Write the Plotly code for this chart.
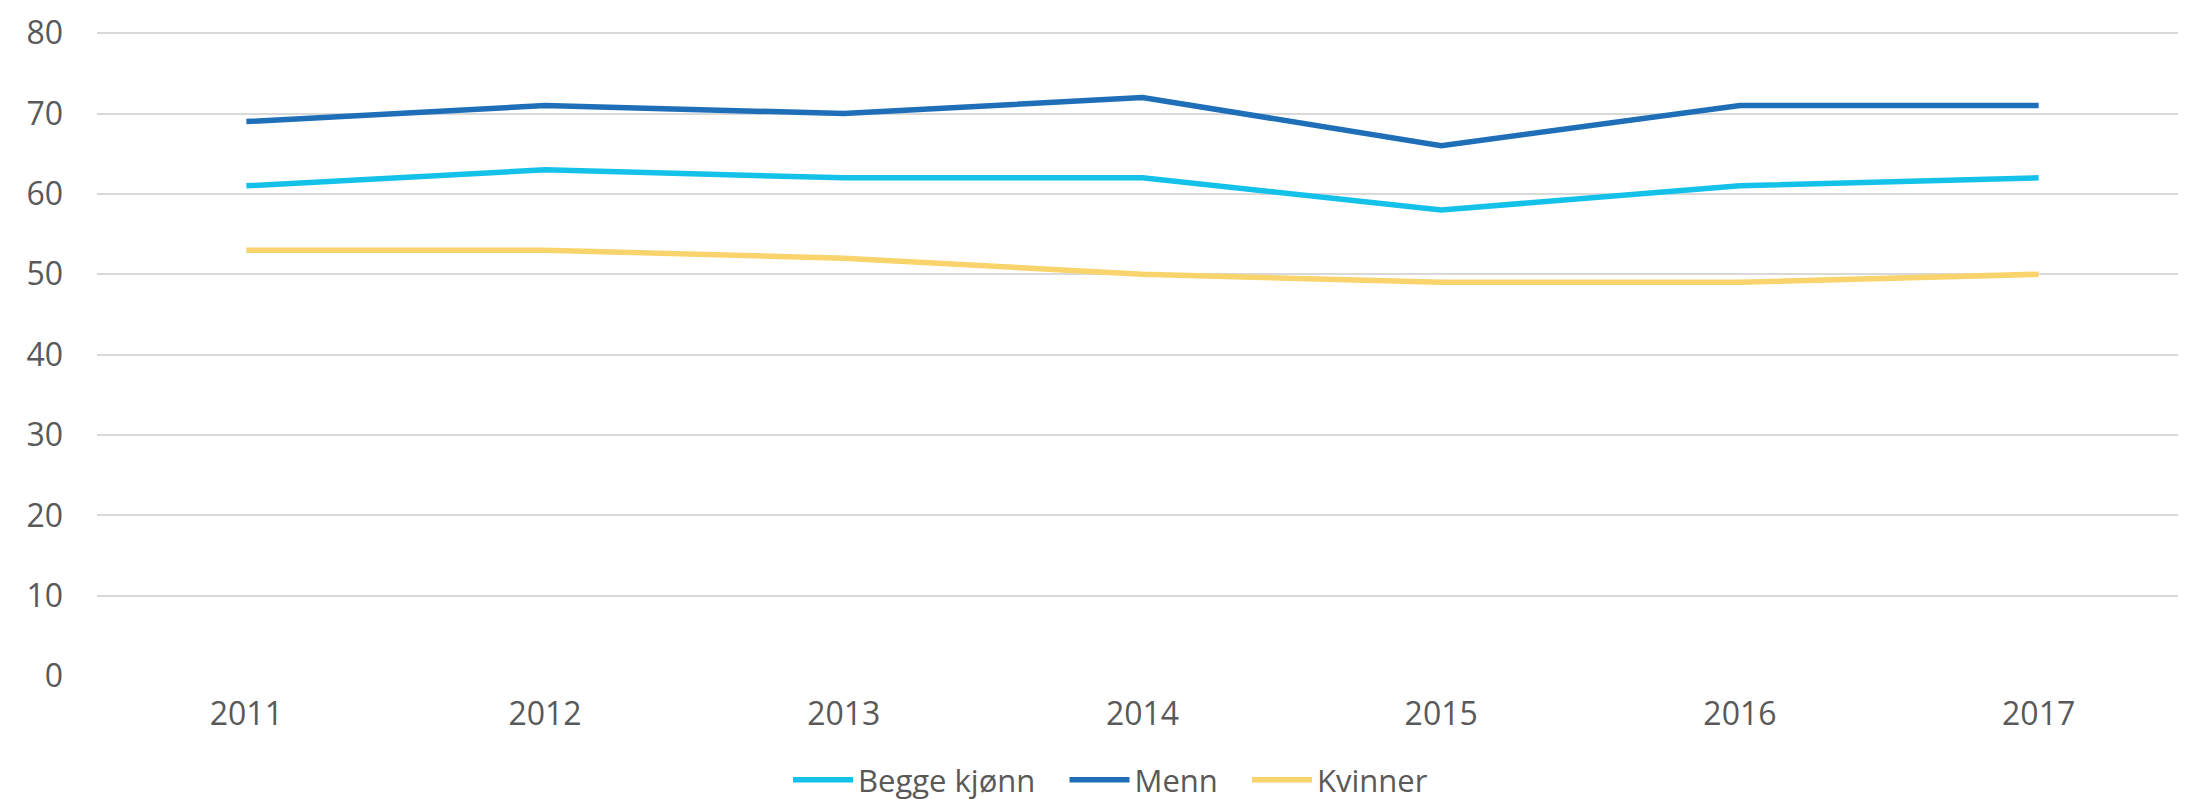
import plotly.graph_objects as go

years = ["2011", "2012", "2013", "2014", "2015", "2016", "2017"]
begge = [61, 63, 62, 62, 58, 61, 62]
menn = [69, 71, 70, 72, 66, 71, 71]
kvinner = [53, 53, 52, 50, 49, 49, 50]
y_ticks = [0, 10, 20, 30, 40, 50, 60, 70, 80]

series = [
    ("Begge kjønn", begge, "#14C1E9"),
    ("Menn", menn, "#1E6FB8"),
    ("Kvinner", kvinner, "#F9D36B"),
]

NB = "\u00a0" * 3
fig = go.Figure()
for i, (name, vals, col) in enumerate(series):
    label = name + (NB if i < len(series) - 1 else "")
    fig.add_trace(go.Scatter(x=years, y=vals, name=label, mode="lines",
                             line=dict(color=col, width=5.5)))

W, H = 2186, 799
ml, mr, mt, mb = 89, 6, 24, 131
ph = H - mt - mb
fig.update_layout(
    width=W, height=H,
    margin=dict(l=ml, r=mr, t=mt, b=mb, pad=0, autoexpand=False),
    paper_bgcolor="white", plot_bgcolor="white",
    font=dict(family="Open Sans", color="#595959", size=32),
    xaxis=dict(type="category", range=[-0.5, 6.5], showgrid=False,
               showline=False, zeroline=False, ticks="", automargin=False,
               ticklabelstandoff=16, tickfont=dict(size=32)),
    yaxis=dict(range=[0, 80.15], tickvals=y_ticks, showgrid=True,
               gridcolor="#D9D9D9", gridwidth=1.5, zeroline=False,
               showline=False, ticks="", ticklabelstandoff=33, automargin=False,
               tickfont=dict(size=32)),
    legend=dict(orientation="h", x=(780 - ml) / (W - ml - mr), xanchor="left",
                y=-104 / ph, yanchor="middle",
                font=dict(family="Open Sans", size=31, color="#595959"),
                itemwidth=60, tracegroupgap=0, bgcolor="rgba(0,0,0,0)"),
    showlegend=True,
)

fig.write_html("out.html")
